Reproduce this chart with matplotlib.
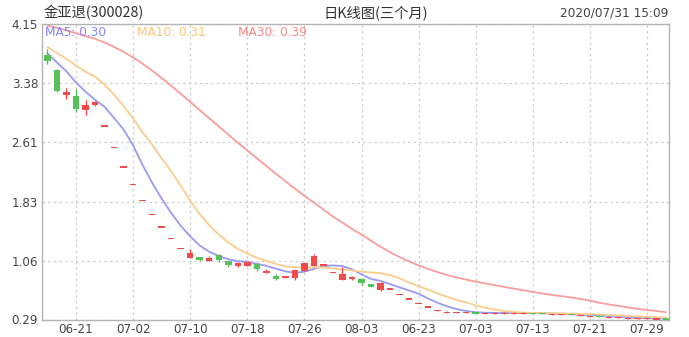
import matplotlib
matplotlib.use("Agg")
import matplotlib.pyplot as plt
import numpy as np
import pandas as pd

# ---------------- data ----------------
dates = ["06-15", "06-19", "06-20", "06-21", "06-25", "06-26", "06-27", "06-28", "06-29", "07-02",
         "07-03", "07-04", "07-05", "07-06", "07-09", "07-10", "07-11", "07-12", "07-13", "07-16",
         "07-17", "07-18", "07-19", "07-20", "07-23", "07-24", "07-25", "07-26", "07-27", "07-30",
         "07-31", "08-01", "08-02", "08-03", "08-06", "08-07", "06-18", "06-19", "06-22", "06-23",
         "06-24", "06-29", "06-30", "07-01", "07-02", "07-03", "07-06", "07-07", "07-08", "07-09",
         "07-10", "07-13", "07-14", "07-15", "07-16", "07-17", "07-20", "07-21", "07-22", "07-23",
         "07-24", "07-27", "07-28", "07-29", "07-30", "07-31"]

# closes before the visible window (used only for the moving averages)
prior_close = [4.15, 4.20, 4.25, 4.22, 4.18, 4.25, 4.28, 4.26, 4.24,
               4.30, 4.35, 4.38, 4.40, 4.36, 4.33, 4.30, 4.28, 4.27, 4.25, 4.20,
               4.08, 4.00, 3.95, 3.88, 3.79, 3.86, 3.85, 3.76, 3.70]

opens = [3.744, 3.548, 3.221, 3.208, 3.025, 3.090, 2.820, 2.538, 2.284, 2.056,
         1.850, 1.665, 1.499, 1.349, 1.214, 1.093, 1.105, 1.053, 1.127, 1.049,
         0.984, 0.990, 1.020, 0.896, 0.853, 0.840, 0.836, 0.928, 0.990, 1.003,
         0.900, 0.810, 0.830, 0.824, 0.748, 0.670, 0.689, 0.620, 0.558, 0.502,
         0.452, 0.405, 0.383, 0.378, 0.376, 0.376, 0.372, 0.372, 0.368, 0.372,
         0.371, 0.372, 0.366, 0.358, 0.353, 0.353, 0.340, 0.333, 0.328, 0.318,
         0.312, 0.306, 0.301, 0.298, 0.295, 0.297]
highs = [3.832, 3.560, 3.316, 3.299, 3.156, 3.150, 2.820, 2.538, 2.284, 2.056,
         1.850, 1.665, 1.499, 1.349, 1.214, 1.210, 1.110, 1.120, 1.140, 1.060,
         1.040, 1.045, 1.025, 0.955, 0.880, 0.855, 0.945, 1.035, 1.140, 1.003,
         0.900, 0.970, 0.860, 0.830, 0.750, 0.780, 0.689, 0.620, 0.558, 0.502,
         0.452, 0.420, 0.395, 0.390, 0.388, 0.385, 0.383, 0.383, 0.385, 0.383,
         0.382, 0.380, 0.374, 0.368, 0.363, 0.360, 0.350, 0.342, 0.336, 0.328,
         0.322, 0.316, 0.310, 0.307, 0.304, 0.303]
lows = [3.636, 3.270, 3.169, 3.002, 2.959, 3.080, 2.820, 2.538, 2.284, 2.056,
        1.850, 1.665, 1.499, 1.349, 1.214, 1.093, 1.055, 1.050, 1.040, 0.974,
        0.974, 0.985, 0.930, 0.895, 0.800, 0.835, 0.800, 0.925, 0.985, 1.003,
        0.900, 0.810, 0.800, 0.745, 0.710, 0.665, 0.689, 0.620, 0.558, 0.502,
        0.452, 0.400, 0.375, 0.372, 0.370, 0.366, 0.366, 0.366, 0.365, 0.366,
        0.364, 0.362, 0.356, 0.352, 0.346, 0.344, 0.334, 0.326, 0.318, 0.312,
        0.306, 0.300, 0.296, 0.292, 0.290, 0.290]
closes = [3.666, 3.280, 3.264, 3.038, 3.099, 3.133, 2.820, 2.538, 2.284, 2.056,
          1.850, 1.665, 1.499, 1.349, 1.214, 1.160, 1.062, 1.092, 1.070, 1.006,
          1.027, 1.040, 0.955, 0.930, 0.823, 0.850, 0.940, 1.030, 1.115, 1.003,
          0.900, 0.890, 0.835, 0.767, 0.713, 0.765, 0.689, 0.620, 0.558, 0.502,
          0.452, 0.408, 0.386, 0.381, 0.378, 0.373, 0.374, 0.374, 0.378, 0.374,
          0.373, 0.368, 0.362, 0.360, 0.355, 0.350, 0.342, 0.335, 0.326, 0.320,
          0.314, 0.308, 0.303, 0.300, 0.297, 0.295]

y_ticks = [0.29, 1.06, 1.83, 2.61, 3.38, 4.15]
ma_periods = [5, 10, 30]
ma_labels = ["MA5: 0.30", "MA10: 0.31", "MA30: 0.39"]
title_left = "金亚退(300028)"
title_mid = "日K线图(三个月)"
title_right = "2020/07/31 15:09"

# ---------------- style ----------------
RED = "#f04a4a"
GREEN = "#58c058"
MA_COLORS = ["#9a9af5", "#fdcb8c", "#fb9c9c"]
MA_TEXT = ["#8585ff", "#ffc46e", "#ff8686"]
GRID = "#cfcfcf"
SPINE = "#b4b4b4"
TXT = "#444444"
CJK = ["Noto Sans CJK SC", "DejaVu Sans"]

W, H = 689, 337
fig = plt.figure(figsize=(W / 100, H / 100), dpi=100)
fig.patch.set_facecolor("white")
ax = fig.add_axes([42.3 / W, (H - 319.5) / H, (669.3 - 42.3) / W, (319.5 - 24.3) / H])

n = len(closes)
x = np.arange(n)
o = np.array(opens); c = np.array(closes); hi = np.array(highs); lo = np.array(lows)

# moving averages (with pre-window history)
full = pd.Series(prior_close + closes)
for p, col in zip(ma_periods, MA_COLORS):
    ma = full.rolling(p).mean().to_numpy()[len(prior_close):]
    ax.plot(x, ma, color=col, lw=1.3, zorder=2, solid_capstyle="round")

# candles
min_h = 0.016
for i in range(n):
    up = c[i] >= o[i]
    col = RED if up else GREEN
    if hi[i] > lo[i]:
        ax.vlines(x[i], lo[i], hi[i], color=col, lw=1.0, zorder=3)
    body = abs(c[i] - o[i])
    bottom = min(o[i], c[i])
    if body < min_h:
        bottom = (o[i] + c[i]) / 2 - min_h / 2
        body = min_h
    ax.bar(x[i], body, bottom=bottom, width=0.68, color=col, lw=0, zorder=4)

ax.set_xlim(-0.54, 65.34)
ax.set_ylim(y_ticks[0], y_ticks[-1])
ax.set_yticks(y_ticks)
ax.set_yticklabels([f"{v:.2f}" for v in y_ticks])
tick_idx = list(range(3, n, 6))
ax.set_xticks(tick_idx)
ax.set_xticklabels([dates[i] for i in tick_idx])
ax.tick_params(length=0, labelsize=8.6, colors=TXT)
ax.tick_params(axis="x", pad=2.5)
ax.tick_params(axis="y", pad=3)
ax.grid(True, color=GRID, lw=0.9, linestyle=(0, (2, 2.5)))
ax.set_axisbelow(True)
for s in ax.spines.values():
    s.set_color(SPINE)
    s.set_linewidth(1.0)

# header texts
fig.text(44 / W, 1 - 13 / H, title_left, ha="left", va="center", fontsize=10.3,
         family=CJK, color="#333333")
fig.text(323 / W, 1 - 13 / H, title_mid, ha="left", va="center", fontsize=10.3,
         family=CJK, color="#333333")
fig.text(668 / W, 1 - 13 / H, title_right, ha="right", va="center", fontsize=8.7,
         color=TXT)

# MA legend texts
ma_x = [45, 137, 238]
for lbl, col, xp in zip(ma_labels, MA_TEXT, ma_x):
    fig.text(xp / W, 1 - 33 / H, lbl, ha="left", va="center", fontsize=8.7, color=col)

fig.savefig("out.png", dpi=100, facecolor="white")
